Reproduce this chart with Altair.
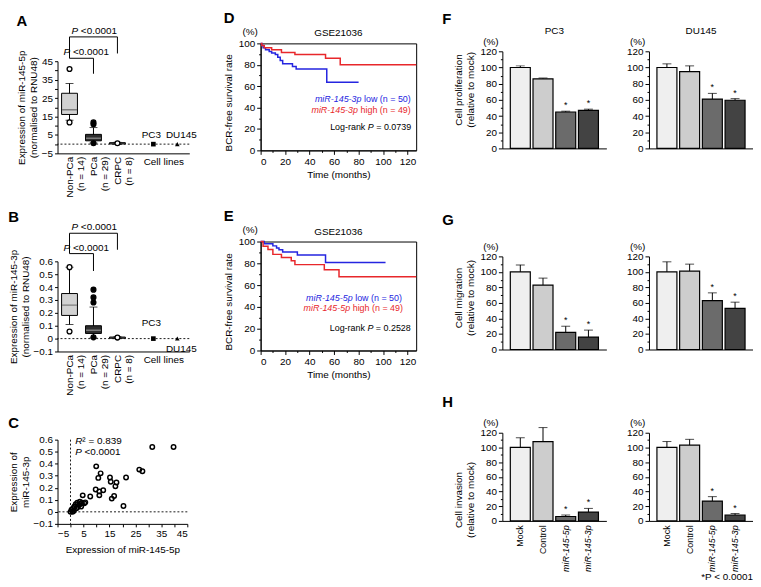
import altair as alt
import pandas as pd

FONT = "Liberation Sans"
BLUE = "#2525e0"
RED = "#e8272b"

# ---------------- Panels A / B : expression by group ----------------
groups = ["Non-PCa", "PCa", "CRPC"]
group_n = ["(n = 14)", "(n = 29)", "(n = 8)"]
cell_lines = ["PC3", "DU145"]
# category slots along the x axis (blank slots only space the groups)
x_slots = ["Non-PCa", "s1", "PCa", "s2", "CRPC", "s3", "s4", "PC3", "s5", "DU145"]
box_fill = ["#d2d2d2", "#2e2e2e", "#3a3a3a"]
median_color = ["#5a5a5a", "#9c9c9c", "#3a3a3a"]
outlier_fill_by_group = ["white", "black", "white"]
bracket_from = ["Non-PCa", "Non-PCa"]
bracket_to = ["CRPC", "PCa"]
p_label = [("P", "italic"), (" <0.0001", "normal")]

a_q1 = [16.1, 1.8, 0.1]
a_median = [18.7, 3.2, 0.4]
a_q3 = [27.6, 5.3, 0.8]
a_whisker_lo = [13.0, 0.6, 0.0]
a_whisker_hi = [32.9, 9.0, 1.0]
a_outlier_group = ["Non-PCa", "Non-PCa", "PCa", "PCa", "PCa", "CRPC"]
a_outlier_value = [40.8, 11.8, 11.8, 10.8, 0.5, 0.5]
a_cell_value = [0.0, 0.0]
a_cell_label_y = [5.0, 5.0]
a_bracket_level = [58.2, 46.6]
a_bracket_end = [49.2, 38.2]

b_q1 = [0.18, 0.04, 0.003]
b_median = [0.26, 0.065, 0.007]
b_q3 = [0.35, 0.10, 0.012]
b_whisker_lo = [0.11, 0.005, 0.0]
b_whisker_hi = [0.555, 0.245, 0.015]
b_outlier_group = ["Non-PCa", "Non-PCa", "PCa", "PCa", "PCa", "PCa", "CRPC"]
b_outlier_value = [0.555, 0.055, 0.38, 0.32, 0.28, 0.01, 0.008]
b_cell_value = [0.0, 0.0]
b_cell_label_y = [0.12, -0.082]
b_bracket_level = [0.818, 0.66]
b_bracket_end = [0.69, 0.525]

# ---------------- Panel C : scatter ----------------
c_x = [31.5, 39.7, 26.5, 27.7, 21.4, 9.9, 10.7, 11.6, 15.2, 15.5, 17.7, 17.3, 9.7,
       11.1, 12.6, 11.1, 16.8, 15.9, 7.6, 20.4, 4.7, 4.4, 5.3, 5.7,
       0.0, 0.4, 1.0, 1.5, 2.0, 2.6, 3.2, 3.6, 4.1, 2.3, 1.3, 0.8, 2.8, 3.8]
c_y = [0.539, 0.539, 0.351, 0.338, 0.285, 0.378, 0.282, 0.32, 0.285, 0.25, 0.244, 0.212, 0.186,
       0.17, 0.18, 0.137, 0.132, 0.11, 0.127, 0.049, 0.137, 0.076, 0.071, 0.079,
       0.0, 0.017, 0.03, 0.044, 0.063, 0.076, 0.057, 0.084, 0.044, 0.03, 0.009, 0.0, 0.041, 0.065]
c_note_segments = [[("R", "italic"), ("\u00b2 = 0.839", "normal")], p_label]
c_note_x = [1.8, 1.8]
c_note_y = [0.585, 0.495]

# ---------------- Panels D / E : Kaplan-Meier ----------------
km_groups = ["low", "high"]
d_low_t = [0, 1, 2, 4, 7, 9, 12, 14, 16, 18, 26, 29, 54, 80]
d_low_s = [100, 98, 96, 94, 92.5, 91, 89.5, 87, 84, 81, 78.5, 76, 63.6, 63.6]
d_high_t = [0, 1, 3, 9, 17, 28, 53, 65, 127]
d_high_s = [100, 98, 96, 94, 91.5, 89.5, 86, 80, 80]
e_low_t = [0, 3, 10, 13, 15, 18, 30, 53, 102]
e_low_s = [100, 98, 96, 94, 92.5, 90.3, 87.6, 80.8, 80.8]
e_high_t = [0, 2, 6, 10, 17, 25, 28, 52, 64, 127]
e_high_s = [100, 95.6, 92.6, 88.2, 85.3, 82.3, 78.8, 74, 67.6, 67.6]
legend_colors = [BLUE, RED, "black"]
d_legend = [[("miR-145-3p", "italic"), (" low (n = 50)", "normal")],
            [("miR-145-3p", "italic"), (" high (n = 49)", "normal")],
            [("Log-rank ", "normal"), ("P", "italic"), (" = 0.0739", "normal")]]
d_legend_t = [122.6, 122.6, 122.9]
d_legend_s = [47.8, 38.0, 21.8]
e_legend = [[("miR-145-5p", "italic"), (" low (n = 50)", "normal")],
            [("miR-145-5p", "italic"), (" high (n = 49)", "normal")],
            [("Log-rank ", "normal"), ("P", "italic"), (" = 0.2528", "normal")]]
e_legend_t = [115.4, 116.2, 122.6]
e_legend_s = [48.2, 38.6, 20.4]

# ---------------- Panels F / G / H : functional assays ----------------
conditions = ["Mock", "Control", "miR-145-5p", "miR-145-3p"]
bar_fill = ["#efefef", "#cdcdcd", "#6b6b6b", "#434343"]
star = ["", "", "*", "*"]
f_pc3 = [100, 86, 45, 47]
f_pc3_err = [2, 1, 1, 1.5]
f_du = [100, 95, 61, 59.5]
f_du_err = [4.5, 7, 7, 2]
g_pc3 = [100, 83, 22, 16]
g_pc3_err = [9, 9, 8, 9]
g_du = [100, 101, 63, 53]
g_du_err = [13, 9, 10, 8]
h_pc3 = [100, 108, 6, 12]
h_pc3_err = [13, 19, 2, 5]
h_du = [100, 103, 27, 8]
h_du_err = [8, 8, 6, 2]

# Arial / Liberation Sans advance widths (per 1000 em) used to place mixed-style text runs
CHAR_W = {" ": 278, ".": 278, "-": 333, "=": 584, "(": 333, ")": 333, "<": 584, "*": 389, "\u00b2": 333,
          "P": 667, "R": 722, "L": 556, "C": 722, "N": 722,
          "a": 556, "b": 556, "c": 500, "d": 556, "e": 556, "f": 278, "g": 556, "h": 556, "i": 222,
          "k": 500, "l": 222, "m": 833, "n": 556, "o": 556, "p": 556, "r": 333, "s": 500, "t": 278,
          "u": 556, "v": 500, "w": 722, "x": 500, "y": 500}


def text_w(s, fs):
    return sum(CHAR_W.get(c, 556) for c in s) * fs / 1000.0


def rich_text(xv, yv, segments, X, Y, align="left", base_dx=0.0, baseline="middle", fs=10, color="black",
              dy=0):
    layers = []
    for i, (txt, style) in enumerate(segments):
        core = txt.strip()
        if align == "left":
            lead = len(txt) - len(txt.lstrip())
            dx = base_dx + sum(text_w(t, fs) for t, _ in segments[:i]) + text_w(" " * lead, fs)
        else:
            trail = len(txt) - len(txt.rstrip())
            dx = base_dx - sum(text_w(t, fs) for t, _ in segments[i + 1:]) - text_w(" " * trail, fs)
        df = pd.DataFrame({"x": [xv], "y": [yv], "t": [core]})
        layers.append(alt.Chart(df).mark_text(align=align, baseline=baseline, dx=dx, dy=dy, fontSize=fs,
                                              fontStyle=style, color=color).encode(x=X("x"), y=Y("y"), text="t:N"))
    return layers


def minor_axis(title, top, step_minor, step_major, **kw):
    vals = list(range(0, top + 1, step_minor))
    return alt.Axis(title=title, values=vals,
                    labelExpr=f"datum.value % {step_major} == 0 ? datum.label : ''",
                    tickSize={"condition": {"test": f"datum.value % {step_major} != 0", "value": 2}, "value": 4},
                    **kw)


def letter_title(t, offset=0, dx=0):
    return alt.TitleParams(t, anchor="start", fontSize=15, fontWeight="bold", offset=offset, dx=dx)


def spacer():
    return alt.Chart(pd.DataFrame({"v": [0]})).mark_point(opacity=0, size=1).encode(
        x=alt.X("v:Q", axis=None), y=alt.Y("v:Q", axis=None)).properties(width=1, height=1)


def box_panel(q1, med, q3, wlo, whi, og, ov, cv, cly, blev, bend, ydom, yvals, yfmt, ytitle, letter, w, h):
    xs = alt.Scale(type="point", domain=x_slots, padding=1.8)
    ys = alt.Scale(domain=ydom, nice=False, zero=False)
    lexpr = " : ".join(f"datum.value == '{g}' ? ['{g}', '{n}']" for g, n in zip(groups, group_n)) + " : ''"
    xax = alt.Axis(title=None, labelAngle=-90, labelAlign="right", labelBaseline="middle",
                   labelExpr=lexpr, ticks=False, labelPadding=3, labelLineHeight=11.5)
    yax = alt.Axis(title=ytitle, values=yvals, format=yfmt, tickSize=3, titlePadding=3)

    def X(f):
        return alt.X(f, type="nominal", scale=xs, axis=xax)

    def Y(f):
        return alt.Y(f, type="quantitative", scale=ys, axis=yax)

    box_df = pd.DataFrame(dict(g=groups, q1=q1, med=med, q3=q3, lo=wlo, hi=whi, fill=box_fill, mc=median_color))
    fill_map = dict(zip(groups, outlier_fill_by_group))
    out_df = pd.DataFrame(dict(g=og, v=ov, fill=[fill_map[g] for g in og]))
    cell_df = pd.DataFrame(dict(g=cell_lines, v=cv, ly=cly))
    zero_df = pd.DataFrame(dict(v=[0.0]))
    brk_df = pd.DataFrame({"src": bracket_from, "dst": bracket_to, "lev": blev, "end": bend})
    leg_df = pd.DataFrame({"src": [bracket_from[0]], "top": [blev[0]], "bot": [blev[1]]})
    cl_df = pd.DataFrame({"g": ["PC3"], "v": [ydom[0]], "txt": ["Cell lines"]})

    bb = alt.Chart(box_df)
    zero = alt.Chart(zero_df).mark_rule(color="black", strokeDash=[2, 2], strokeWidth=0.9).encode(y=Y("v"))
    whisk = bb.mark_rule(color="black").encode(x=X("g"), y=Y("lo"), y2="hi")
    cap_hi = bb.mark_tick(color="black", size=8, thickness=1).encode(x=X("g"), y=Y("hi"))
    cap_lo = bb.mark_tick(color="black", size=8, thickness=1).encode(x=X("g"), y=Y("lo"))
    box = bb.mark_bar(size=16, stroke="black", strokeWidth=1).encode(
        x=X("g"), y=Y("q1"), y2="q3", fill=alt.Fill("fill:N", scale=None))
    medl = bb.mark_tick(size=15, thickness=1.5).encode(x=X("g"), y=Y("med"), color=alt.Color("mc:N", scale=None))
    outl = alt.Chart(out_df).mark_point(shape="circle", filled=True, size=24, stroke="black",
                                        strokeWidth=1.3, opacity=1).encode(
        x=X("g"), y=Y("v"), fill=alt.Fill("fill:N", scale=None))
    cells = alt.Chart(cell_df).mark_point(filled=True, color="black", size=22, opacity=1).encode(
        x=X("g"), y=Y("v"),
        shape=alt.Shape("g:N", scale=alt.Scale(domain=cell_lines, range=["square", "triangle-up"]), legend=None))
    cell_txt1 = alt.Chart(cell_df.iloc[[0]]).mark_text(fontSize=10, dx=-2).encode(
        x=X("g"), y=Y("ly"), text="g:N")
    cell_txt2 = alt.Chart(cell_df.iloc[[1]]).mark_text(fontSize=10, dx=4).encode(
        x=X("g"), y=Y("ly"), text="g:N")
    hl = alt.Chart(brk_df).mark_rule(color="black").encode(x=X("src"), x2="dst", y=Y("lev"))
    rl = alt.Chart(brk_df).mark_rule(color="black").encode(x=X("dst"), y=Y("lev"), y2="end")
    ll = alt.Chart(leg_df).mark_rule(color="black").encode(x=X("src"), y=Y("top"), y2="bot")
    t_up = rich_text(bracket_from[0], blev[0], p_label, X, Y, align="left", base_dx=2, baseline="bottom", dy=-1)
    t_lo = rich_text(bracket_from[1], blev[1], p_label, X, Y, align="left", base_dx=-6, baseline="bottom", dy=-1)
    cl = alt.Chart(cl_df).mark_text(baseline="top", dx=10.5, dy=4).encode(x=X("g"), y=Y("v"), text="txt:N")
    return alt.layer(zero, whisk, cap_hi, cap_lo, box, medl, outl, cells, cell_txt1, cell_txt2,
                     hl, rl, ll, *t_up, *t_lo, cl).properties(width=w, height=h, title=letter_title(letter, -3))


panel_a = box_panel(a_q1, a_median, a_q3, a_whisker_lo, a_whisker_hi, a_outlier_group, a_outlier_value,
                    a_cell_value, a_cell_label_y, a_bracket_level, a_bracket_end,
                    [-5, 45], list(range(-5, 50, 5)), "d",
                    ["Expression of miR-145-5p", "(normalised to RNU48)"], "A", 133, 93)
panel_b = box_panel(b_q1, b_median, b_q3, b_whisker_lo, b_whisker_hi, b_outlier_group, b_outlier_value,
                    b_cell_value, b_cell_label_y, b_bracket_level, b_bracket_end,
                    [-0.1, 0.6], [-0.1, 0, 0.1, 0.2, 0.3, 0.4, 0.5, 0.6], ".1~f",
                    ["Expression of miR-145-3p", "(normalised to RNU48)"], "B", 133, 91)

# ---- C
c_xs = alt.Scale(domain=[-5, 45], nice=False, zero=False)
c_ys = alt.Scale(domain=[-0.1, 0.6], nice=False, zero=False)
c_xax = alt.Axis(title="Expression of miR-145-5p", values=list(range(-5, 50, 5)), tickSize=3, titlePadding=6)
c_yax = alt.Axis(title=["Expression of", "miR-145-3p"], values=[-0.1, 0, 0.1, 0.2, 0.3, 0.4, 0.5, 0.6],
                 format=".1~f", tickSize=3, titlePadding=3)


def cX(f):
    return alt.X(f, type="quantitative", scale=c_xs, axis=c_xax)


def cY(f):
    return alt.Y(f, type="quantitative", scale=c_ys, axis=c_yax)


c_df = pd.DataFrame({"x": c_x, "y": c_y})
c_zero = pd.DataFrame({"v": [0.0]})
c_pts = alt.Chart(c_df).mark_point(shape="circle", size=20, stroke="black", strokeWidth=1.5, opacity=1).encode(
    x=cX("x"), y=cY("y"))
c_h = alt.Chart(c_zero).mark_rule(color="black", strokeDash=[2, 2], strokeWidth=0.9).encode(y=cY("v"))
c_v = alt.Chart(c_zero).mark_rule(color="black", strokeDash=[2, 2], strokeWidth=0.9).encode(x=cX("v"))
c_texts = []
for segs, xv, yv in zip(c_note_segments, c_note_x, c_note_y):
    c_texts += rich_text(xv, yv, segs, cX, cY, align="left")
panel_c = alt.layer(c_h, c_v, c_pts, *c_texts).properties(width=131, height=85, title=letter_title("C", 4))


# ---- D / E
def km_panel(lt, ls, ht, hs, legend, lx, ly, letter, w, h):
    xs = alt.Scale(domain=[0, 127], nice=False, zero=False)
    ys = alt.Scale(domain=[0, 100], nice=False, zero=False)
    xax = minor_axis("Time (months)", 120, 10, 20, titlePadding=3)
    yax = minor_axis("(%)", 100, 10, 20, titleAngle=0, titleAlign="center", titleBaseline="bottom",
                     titleX=-11, titleY=-7)

    def X(f):
        return alt.X(f, type="quantitative", scale=xs, axis=xax)

    def Y(f):
        return alt.Y(f, type="quantitative", scale=ys, axis=yax)

    df = pd.concat([
        pd.DataFrame({"grp": km_groups[0], "t": lt, "s": ls}),
        pd.DataFrame({"grp": km_groups[1], "t": ht, "s": hs}),
    ])
    lines = alt.Chart(df).mark_line(interpolate="step-after", strokeWidth=1.5).encode(
        x=X("t"), y=Y("s"),
        color=alt.Color("grp:N", scale=alt.Scale(domain=km_groups, range=[BLUE, RED]), legend=None))
    texts = []
    for segs, xv, yv, col in zip(legend, lx, ly, legend_colors):
        texts += rich_text(xv, yv, segs, X, Y, align="right", fs=9, color=col)
    core = alt.layer(lines, *texts).properties(
        width=w, height=h,
        title=alt.TitleParams("GSE21036", anchor="middle", frame="group", fontSize=10, fontWeight="normal",
                              offset=-12),
        view=alt.ViewBackground(stroke="black", strokeWidth=1))
    mid = alt.vconcat(core).properties(
        title=alt.TitleParams("BCR-free survival rate", orient="left", anchor="middle", fontSize=10,
                              fontWeight="normal", offset=4))
    return alt.vconcat(mid).properties(title=letter_title(letter, 0))


panel_d = km_panel(d_low_t, d_low_s, d_high_t, d_high_s, d_legend, d_legend_t, d_legend_s, "D", 157, 108)
panel_e = km_panel(e_low_t, e_low_s, e_high_t, e_high_s, e_legend, e_legend_t, e_legend_s, "E", 157, 110)


# ---- F / G / H
def bar_panel(vals, errs, h, show_labels, title=None):
    df = pd.DataFrame({"cond": conditions, "v": vals, "e": errs, "fill": bar_fill, "star": star})
    xs = alt.Scale(type="band", domain=conditions, paddingInner=0.12, paddingOuter=0.35)
    ys = alt.Scale(domain=[0, 120], nice=False, zero=True)
    if show_labels:
        xax = alt.Axis(title=None, ticks=False, labelAngle=-90, labelAlign="right", labelBaseline="middle",
                       labelPadding=4, labelFontSize=9,
                       labelFontStyle={"condition": {"test": "indexof(datum.value, 'miR') == 0", "value": "italic"},
                                       "value": "normal"})
    else:
        xax = alt.Axis(title=None, ticks=False, labels=False)
    yax = minor_axis("(%)", 120, 10, 20, titleAngle=0, titleAlign="center", titleBaseline="bottom",
                     titleX=-12, titleY=-5)
    X = alt.X("cond:N", scale=xs, axis=xax)
    base = alt.Chart(df).transform_calculate(top="datum.v + datum.e")
    err = base.mark_rule(color="black").encode(x=X, y=alt.Y("v:Q", scale=ys, axis=yax), y2="top:Q")
    cap = base.mark_tick(color="black", size=9, thickness=1).encode(x=X, y=alt.Y("top:Q", scale=ys, axis=yax))
    bars = base.mark_bar(stroke="black", strokeWidth=1.2).encode(
        x=X, y=alt.Y("v:Q", scale=ys, axis=yax), fill=alt.Fill("fill:N", scale=None))
    stars = base.mark_text(fontSize=9, dy=-6).encode(x=X, y=alt.Y("top:Q", scale=ys, axis=yax), text="star:N")
    props = dict(width=105, height=h)
    if title is not None:
        props["title"] = title
    return alt.layer(err, cap, bars, stars).properties(**props)


def bar_row(pc3, pc3e, du, due, h, show_labels, ylab, letter, letter_off, top_titles, foot=None):
    t1 = alt.TitleParams("PC3", fontSize=10, fontWeight="normal", frame="group", offset=0) if top_titles else None
    t2 = alt.TitleParams("DU145", fontSize=10, fontWeight="normal", frame="group", offset=0) if top_titles else None
    if foot is not None:
        t2 = alt.TitleParams(foot, orient="bottom", anchor="end", fontSize=10, fontWeight="normal", offset=1)
    row = alt.hconcat(bar_panel(pc3, pc3e, h, show_labels, t1), bar_panel(du, due, h, show_labels, t2),
                      spacing=20).properties(
        title=alt.TitleParams(ylab, orient="left", anchor="middle", fontSize=10, fontWeight="normal", offset=4))
    return alt.vconcat(row).properties(title=letter_title(letter, letter_off, -12))


panel_f = bar_row(f_pc3, f_pc3_err, f_du, f_du_err, 98, False, ["Cell proliferation", "(relative to mock)"],
                  "F", 0, True)
panel_g = bar_row(g_pc3, g_pc3_err, g_du, g_du_err, 94, False, ["Cell migration", "(relative to mock)"],
                  "G", 14, False)
panel_h = bar_row(h_pc3, h_pc3_err, h_du, h_du_err, 89, True, ["Cell invasion", "(relative to mock)"],
                  "H", 8, False, foot="*P < 0.0001")

left_col = alt.vconcat(spacer(), alt.vconcat(alt.vconcat(panel_a, panel_b, spacing=12), panel_c, spacing=20),
                       spacing=-2)
mid_col = alt.vconcat(spacer(), alt.vconcat(panel_d, panel_e, spacing=29), spacing=-5)
right_col = alt.vconcat(spacer(), alt.vconcat(alt.vconcat(panel_f, panel_g, spacing=60), panel_h, spacing=40),
                        spacing=-4)

chart = alt.hconcat(alt.hconcat(left_col, mid_col, spacing=26), right_col, spacing=22).properties(
    padding={"left": 0, "top": 0, "right": 0, "bottom": 0}
).configure(font=FONT).configure_view(stroke=None).configure_axis(
    labelFont=FONT, titleFont=FONT, labelFontSize=10, titleFontSize=10, titleFontWeight="normal",
    domainColor="black", tickColor="black", labelColor="black", titleColor="black", grid=False
).configure_title(font=FONT, color="black").configure_text(font=FONT, fontSize=10, color="black")

chart.save("out.html", embed_options={"renderer": "svg", "actions": False})
